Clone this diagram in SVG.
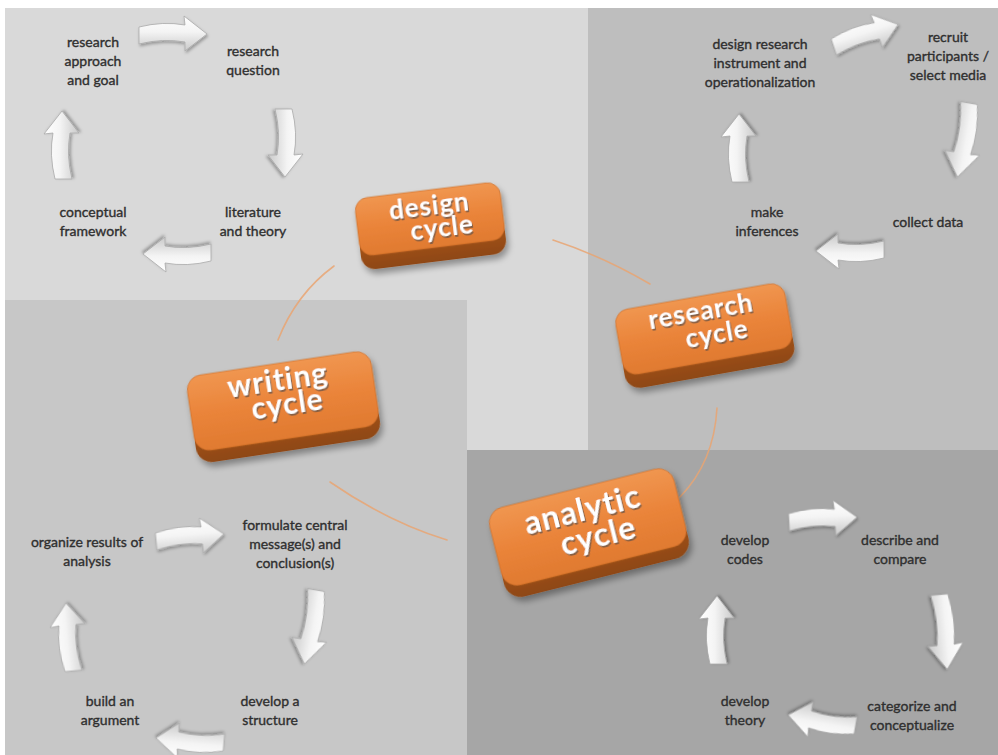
<svg xmlns="http://www.w3.org/2000/svg" width="998" height="755" viewBox="0 0 998 755">
<defs>
  <linearGradient id="arrowFill" x1="0" y1="0" x2="0" y2="1">
    <stop offset="0" stop-color="#ffffff"/>
    <stop offset="0.45" stop-color="#f4f4f4"/>
    <stop offset="1" stop-color="#c9c9c9"/>
  </linearGradient>
  <linearGradient id="faceFill" x1="0" y1="0" x2="0" y2="1">
    <stop offset="0" stop-color="#f09650"/>
    <stop offset="0.5" stop-color="#ea843a"/>
    <stop offset="1" stop-color="#e07a30"/>
  </linearGradient>
  <linearGradient id="sideFill" x1="0" y1="0" x2="0" y2="1">
    <stop offset="0" stop-color="#c8681f"/>
    <stop offset="1" stop-color="#8e4714"/>
  </linearGradient>
  <filter id="boxShadow" x="-20%" y="-20%" width="140%" height="150%">
    <feDropShadow dx="2" dy="5" stdDeviation="3" flood-color="#000" flood-opacity="0.35"/>
  </filter>
  <filter id="arrowShadow" x="-20%" y="-30%" width="140%" height="160%">
    <feDropShadow dx="1" dy="2" stdDeviation="1.5" flood-color="#000" flood-opacity="0.3"/>
  </filter>
  <path id="blockArrow" d="M-34,-8 Q-10,-14 12,-10 L11,-19 L34,-1 L12,16 L12,7 Q-10,3 -34,9 Z"/>
  <style>
    .lbl { font-family: Lato, "Liberation Sans", sans-serif; font-size: 14px; fill: #2f2f2f; stroke: #2f2f2f; stroke-width: 0.35; text-anchor: middle; }
    .arr { fill: url(#arrowFill); stroke: #a9a9a9; stroke-width: 0.8; filter: url(#arrowShadow); }
    .conn { fill: none; stroke: #e9a472; stroke-width: 1.6; stroke-linecap: round; opacity: 0.85; }
    .face { fill: url(#faceFill); stroke: #c86a26; stroke-width: 0.6; }
    .side { fill: url(#sideFill); }
    .btxt { font-family: Lato, "Liberation Sans", sans-serif; font-weight: bold; fill: #ffffff; text-anchor: middle; letter-spacing: 1px; }
    .bsh { font-family: Lato, "Liberation Sans", sans-serif; font-weight: bold; fill: #6a5648; opacity: 0.75; text-anchor: middle; letter-spacing: 1px; }
  </style>
</defs>

<rect width="998" height="755" fill="#ffffff"/>
<g id="background">
  <polygon points="5,8 588,8 588,450 467,450 467,300 5,300" fill="#d9d9d9"/>
  <rect x="588" y="8" width="410" height="442" fill="#bebebe"/>
  <rect x="5" y="300" width="462" height="455" fill="#c7c7c7"/>
  <rect x="467" y="450" width="531" height="305" fill="#a6a6a6"/>
</g>

<g id="connectors">
  <path class="conn" d="M553,240 Q602,256 650,284"/>
  <path class="conn" d="M717,408 Q714,462 680,497"/>
  <path class="conn" d="M447,540 Q388,522 330,482"/>
  <path class="conn" d="M278,340 Q296,294 334,266"/>
</g>

<g id="cycle-arrows">
  <use href="#blockArrow" class="arr" transform="translate(173,35)"/>
  <use href="#blockArrow" class="arr" transform="translate(284,143) rotate(90)"/>
  <use href="#blockArrow" class="arr" transform="translate(177,253) rotate(180)"/>
  <use href="#blockArrow" class="arr" transform="translate(63,145) rotate(-90)"/>

  <use href="#blockArrow" class="arr" transform="translate(866,36) rotate(-18)"/>
  <use href="#blockArrow" class="arr" transform="translate(963,140) rotate(100) scale(1.1,1)"/>
  <use href="#blockArrow" class="arr" transform="translate(850,250) rotate(180)"/>
  <use href="#blockArrow" class="arr" transform="translate(740,148) rotate(-90)"/>

  <use href="#blockArrow" class="arr" transform="translate(190,538) rotate(-5)"/>
  <use href="#blockArrow" class="arr" transform="translate(310,627) rotate(100) scale(1.1,1)"/>
  <use href="#blockArrow" class="arr" transform="translate(190,740) rotate(185)"/>
  <use href="#blockArrow" class="arr" transform="translate(70,637) rotate(-95)"/>

  <use href="#blockArrow" class="arr" transform="translate(823,520) rotate(-3)"/>
  <use href="#blockArrow" class="arr" transform="translate(943,632) rotate(85) scale(1.1,1)"/>
  <use href="#blockArrow" class="arr" transform="translate(822,720) rotate(190)"/>
  <use href="#blockArrow" class="arr" transform="translate(718,630) rotate(-90)"/>
</g>

<g id="design-steps">
  <g id="n-research-approach"><text class="lbl" x="93" y="47">research</text><text class="lbl" x="93" y="66">approach</text><text class="lbl" x="93" y="85">and goal</text></g>
  <g id="n-research-question"><text class="lbl" x="253" y="56">research</text><text class="lbl" x="253" y="75">question</text></g>
  <g id="n-literature"><text class="lbl" x="253" y="217">literature</text><text class="lbl" x="253" y="236">and theory</text></g>
  <g id="n-conceptual"><text class="lbl" x="93" y="217">conceptual</text><text class="lbl" x="93" y="236">framework</text></g>
</g>

<g id="research-steps">
  <g id="n-design-instrument"><text class="lbl" x="760" y="49">design research</text><text class="lbl" x="760" y="68">instrument and</text><text class="lbl" x="760" y="87">operationalization</text></g>
  <g id="n-recruit"><text class="lbl" x="948" y="42">recruit</text><text class="lbl" x="948" y="61">participants /</text><text class="lbl" x="948" y="80">select media</text></g>
  <g id="n-collect"><text class="lbl" x="928" y="227">collect data</text></g>
  <g id="n-inferences"><text class="lbl" x="767" y="217">make</text><text class="lbl" x="767" y="236">inferences</text></g>
</g>

<g id="writing-steps">
  <g id="n-organize"><text class="lbl" x="87" y="547">organize results of</text><text class="lbl" x="87" y="566">analysis</text></g>
  <g id="n-formulate"><text class="lbl" x="295" y="530">formulate central</text><text class="lbl" x="295" y="549">message(s) and</text><text class="lbl" x="295" y="568">conclusion(s)</text></g>
  <g id="n-structure"><text class="lbl" x="270" y="706">develop a</text><text class="lbl" x="270" y="725">structure</text></g>
  <g id="n-argument"><text class="lbl" x="110" y="706">build an</text><text class="lbl" x="110" y="725">argument</text></g>
</g>

<g id="analytic-steps">
  <g id="n-codes"><text class="lbl" x="745" y="545">develop</text><text class="lbl" x="745" y="564">codes</text></g>
  <g id="n-describe"><text class="lbl" x="900" y="545">describe and</text><text class="lbl" x="900" y="564">compare</text></g>
  <g id="n-categorize"><text class="lbl" x="912" y="711">categorize and</text><text class="lbl" x="912" y="730">conceptualize</text></g>
  <g id="n-theory"><text class="lbl" x="745" y="706">develop</text><text class="lbl" x="745" y="725">theory</text></g>
</g>

<g id="design-cycle" transform="translate(430,220) rotate(-7)" filter="url(#boxShadow)">
  <rect class="side" x="-73" y="-26" width="146" height="68" rx="14"/>
  <rect class="face" x="-73" y="-30" width="146" height="58" rx="13"/>
  <text class="bsh" x="2" y="-3" font-size="26">design</text>
  <text class="btxt" x="1" y="-5" font-size="26">design</text>
  <text class="bsh" x="12" y="20" font-size="26">cycle</text>
  <text class="btxt" x="11" y="18" font-size="26">cycle</text>
</g>

<g id="research-cycle" transform="translate(704,330) rotate(-10)" filter="url(#boxShadow)">
  <rect class="side" x="-86" y="-30" width="172" height="76" rx="15"/>
  <rect class="face" x="-86" y="-34" width="172" height="66" rx="14"/>
  <text class="bsh" x="1" y="-8" font-size="26">research</text>
  <text class="btxt" x="0" y="-10" font-size="26">research</text>
  <text class="bsh" x="13" y="17" font-size="26">cycle</text>
  <text class="btxt" x="12" y="15" font-size="26">cycle</text>
</g>

<g id="writing-cycle" transform="translate(283,402) rotate(-8.5)" filter="url(#boxShadow)">
  <rect class="side" x="-93" y="-35" width="186" height="84" rx="16"/>
  <rect class="face" x="-93" y="-39" width="186" height="76" rx="15"/>
  <text class="bsh" x="-1" y="-10" font-size="30">writing</text>
  <text class="btxt" x="-2" y="-12" font-size="30">writing</text>
  <text class="bsh" x="5" y="15" font-size="30">cycle</text>
  <text class="btxt" x="4" y="13" font-size="30">cycle</text>
</g>

<g id="analytic-cycle" transform="translate(588,528) rotate(-14)" filter="url(#boxShadow)">
  <rect class="side" x="-95" y="-37" width="190" height="88" rx="17"/>
  <rect class="face" x="-95" y="-41" width="190" height="80" rx="16"/>
  <text class="bsh" x="0" y="-6" font-size="32">analytic</text>
  <text class="btxt" x="-1" y="-8" font-size="32">analytic</text>
  <text class="bsh" x="9" y="23" font-size="32">cycle</text>
  <text class="btxt" x="8" y="21" font-size="32">cycle</text>
</g>
</svg>
